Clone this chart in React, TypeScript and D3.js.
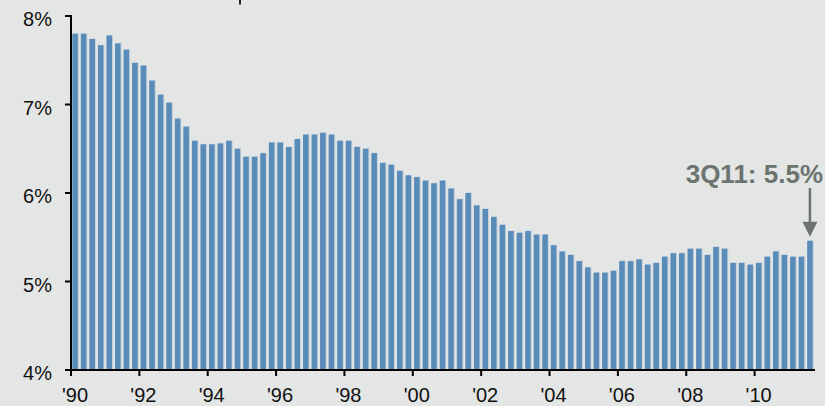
import React, { useRef, useEffect } from 'react';
import * as d3 from 'd3';

// quarterly values, 1Q90 .. 3Q11 (percent)
const years = d3.range(1990, 2012);
const quarterValues = [
  7.8, 7.8, 7.74, 7.67,
  7.78, 7.69, 7.62, 7.47,
  7.44, 7.27, 7.11, 7.02,
  6.84, 6.75, 6.59, 6.55,
  6.55, 6.56, 6.59, 6.5,
  6.41, 6.41, 6.45, 6.57,
  6.57, 6.52, 6.61, 6.66,
  6.66, 6.68, 6.66, 6.59,
  6.59, 6.52, 6.5, 6.45,
  6.34, 6.32, 6.25, 6.2,
  6.18, 6.14, 6.11, 6.14,
  6.05, 5.93, 6.0, 5.86,
  5.82, 5.73, 5.64, 5.57,
  5.55, 5.57, 5.53, 5.53,
  5.41, 5.34, 5.3, 5.23,
  5.16, 5.1, 5.1, 5.12,
  5.23, 5.23, 5.25, 5.19,
  5.21, 5.28, 5.32, 5.32,
  5.37, 5.37, 5.3, 5.39,
  5.37, 5.21, 5.21, 5.19,
  5.21, 5.28, 5.34, 5.3,
  5.28, 5.28, 5.46,
];
const quarters = years
  .flatMap((y) => [1, 2, 3, 4].map((q) => `${q}Q${String(y).slice(2)}`))
  .slice(0, quarterValues.length);
const yTicks = [4, 5, 6, 7, 8];
const xTickYears = [1990, 1992, 1994, 1996, 1998, 2000, 2002, 2004, 2006, 2008, 2010];
const calloutLabel = '3Q11: 5.5%';

const WIDTH = 825;
const HEIGHT = 406;
const FONT = 'Arial, "Liberation Sans", Helvetica, sans-serif';

const App: React.FC = () => {
  const svgRef = useRef<SVGSVGElement>(null);

  useEffect(() => {
    document.body.style.margin = '0';
    document.body.style.background = '#e4e5e5';
    if (!svgRef.current) return;

    const svg = d3.select(svgRef.current);
    svg.selectAll('*').remove();

    const left = 71;
    const right = 814;
    const top = 16;
    const bottom = 370;

    const x = d3
      .scaleBand<string>()
      .domain(quarters)
      .range([left, right])
      .paddingInner(0.35)
      .paddingOuter(0.15);

    const y = d3.scaleLinear().domain([4, 8]).range([bottom, top]);

    svg
      .append('rect')
      .attr('width', WIDTH)
      .attr('height', HEIGHT)
      .attr('fill', '#e4e5e5');

    // clipped descender of the title above the frame
    svg
      .append('line')
      .attr('x1', 240)
      .attr('x2', 240)
      .attr('y1', 0)
      .attr('y2', 4.5)
      .attr('stroke', '#222')
      .attr('stroke-width', 2);

    const data = quarters.map((q, i) => ({ q, v: quarterValues[i] }));

    // faint light edge behind each bar
    svg
      .append('g')
      .selectAll('rect')
      .data(data)
      .enter()
      .append('rect')
      .attr('x', (d) => (x(d.q) || 0) + 1)
      .attr('y', (d) => y(d.v) - 0.5)
      .attr('width', x.bandwidth())
      .attr('height', (d) => bottom - y(d.v) + 0.5)
      .attr('fill', '#c3d0dc');

    svg
      .append('g')
      .selectAll('rect')
      .data(data)
      .enter()
      .append('rect')
      .attr('x', (d) => x(d.q) || 0)
      .attr('y', (d) => y(d.v))
      .attr('width', x.bandwidth())
      .attr('height', (d) => bottom - y(d.v))
      .attr('fill', '#5a8cb9');

    // y axis
    const yAxis = svg.append('g');
    yAxis
      .append('line')
      .attr('x1', left)
      .attr('x2', left)
      .attr('y1', top - 1)
      .attr('y2', bottom + 1)
      .attr('stroke', '#000')
      .attr('stroke-width', 2);
    yTicks.forEach((t) => {
      yAxis
        .append('line')
        .attr('x1', left - 6)
        .attr('x2', left)
        .attr('y1', y(t))
        .attr('y2', y(t))
        .attr('stroke', '#000')
        .attr('stroke-width', 2);
      yAxis
        .append('text')
        .attr('x', 52)
        .attr('y', y(t) + 10)
        .attr('text-anchor', 'end')
        .attr('font-family', FONT)
        .attr('font-size', 20)
        .attr('fill', '#111')
        .text(`${t}%`);
    });

    // x axis
    const xAxis = svg.append('g');
    xAxis
      .append('line')
      .attr('x1', left - 1)
      .attr('x2', right + 1)
      .attr('y1', bottom)
      .attr('y2', bottom)
      .attr('stroke', '#000')
      .attr('stroke-width', 2);
    const edge = x.step() * x.paddingOuter();
    xTickYears.forEach((yr) => {
      const tx = (x(`1Q${String(yr).slice(2)}`) || 0) - edge;
      xAxis
        .append('line')
        .attr('x1', tx)
        .attr('x2', tx)
        .attr('y1', bottom)
        .attr('y2', bottom + 6)
        .attr('stroke', '#000')
        .attr('stroke-width', 2);
      xAxis
        .append('text')
        .attr('x', tx + 4)
        .attr('y', 402)
        .attr('text-anchor', 'middle')
        .attr('font-family', FONT)
        .attr('font-size', 20)
        .attr('fill', '#111')
        .text(`'${String(yr).slice(2)}`);
    });

    // callout on the last quarter
    const last = data[data.length - 1];
    const ax = (x(last.q) || 0) + x.bandwidth() / 2;
    const tipY = y(last.v) - 4;
    const callout = svg.append('g').attr('fill', '#6b746f');
    callout
      .append('text')
      .attr('x', 823)
      .attr('y', 183)
      .attr('text-anchor', 'end')
      .attr('font-family', FONT)
      .attr('font-size', 26)
      .attr('font-weight', 'bold')
      .text(calloutLabel);
    callout
      .append('line')
      .attr('x1', ax)
      .attr('x2', ax)
      .attr('y1', 188)
      .attr('y2', tipY - 12)
      .attr('stroke', '#6b746f')
      .attr('stroke-width', 2.5);
    callout
      .append('path')
      .attr('d', `M${ax - 7.5},${tipY - 15}L${ax + 7.5},${tipY - 15}L${ax},${tipY}Z`);
  }, []);

  return <svg ref={svgRef} width={WIDTH} height={HEIGHT} style={{ display: 'block' }} />;
};

export default App;
